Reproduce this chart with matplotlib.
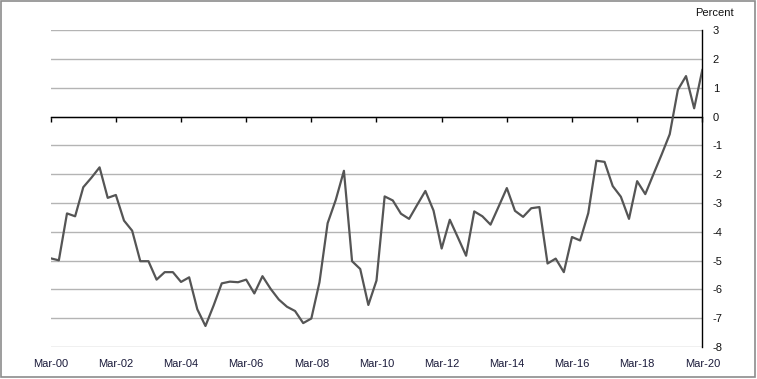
import numpy as np
import matplotlib
matplotlib.use("Agg")
import matplotlib.pyplot as plt
from matplotlib.patches import Rectangle

plt.rcParams['font.family'] = ['Liberation Sans', 'DejaVu Sans']
plt.rcParams['axes.unicode_minus'] = False

# quarterly values, Mar-00 .. Mar-20 (percent)
valores = [
    -4.92, -4.99, -3.36, -3.46, -2.45, -2.12, -1.76, -2.82, -2.72, -3.61,
    -3.96, -5.02, -5.02, -5.66, -5.40, -5.40, -5.74, -5.58, -6.69, -7.27,
    -6.56, -5.79, -5.73, -5.75, -5.66, -6.14, -5.54, -5.98, -6.35, -6.60,
    -6.75, -7.17, -7.01, -5.75, -3.70, -2.89, -1.88, -5.02, -5.29, -6.54,
    -5.69, -2.77, -2.91, -3.37, -3.55, -3.06, -2.58, -3.26, -4.58, -3.58,
    -4.20, -4.83, -3.29, -3.46, -3.75, -3.12, -2.48, -3.27, -3.48, -3.18,
    -3.14, -5.10, -4.93, -5.40, -4.18, -4.30, -3.35, -1.53, -1.57, -2.41,
    -2.78, -3.55, -2.24, -2.69, -2.00, -1.32, -0.61, 0.93, 1.41, 0.29,
    1.62,
]
etiquetas_x = ['Mar-00', 'Mar-02', 'Mar-04', 'Mar-06', 'Mar-08', 'Mar-10',
               'Mar-12', 'Mar-14', 'Mar-16', 'Mar-18', 'Mar-20']
ticks_y = list(range(-8, 4))

W, H = 757, 379
fig = plt.figure(figsize=(W / 100, H / 100), dpi=100)
fig.patches.append(Rectangle((1 / W, 2 / H), 754 / W, 376 / H, transform=fig.transFigure,
                             fill=False, edgecolor='#8c8c8c', linewidth=1.2))

x0, x1, ytop, ybot = 50.7, 702.3, 30.3, 347.0
ax = fig.add_axes([x0 / W, (H - ybot) / H, (x1 - x0) / W, (ybot - ytop) / H])

t = np.arange(len(valores))
ax.plot(t, valores, color='#555555', linewidth=1.6, zorder=3)

ax.set_xlim(0, len(valores) - 1)
ax.set_ylim(-8, 3)

  # grid
ax.set_yticks(ticks_y)
ax.yaxis.grid(True, color='#b4b4b4', linewidth=1.0)
ax.set_axisbelow(True)
ax.yaxis.tick_right()
ax.tick_params(axis='y', length=0, pad=7.5, labelsize=8, labelcolor='#111111')
for lab in ax.get_yticklabels():
    lab.set_horizontalalignment('left')

  # spines
for s in ['top', 'left']:
    ax.spines[s].set_visible(False)
ax.spines['right'].set_color('black')
ax.spines['right'].set_linewidth(1.0)
ax.spines['bottom'].set_position(('data', 0))
ax.spines['bottom'].set_color('black')
ax.spines['bottom'].set_linewidth(1.0)
ax.set_xticks(np.arange(0, len(valores), 8))
ax.tick_params(axis='x', direction='out', length=3.5, width=1.0, color='black',
               labelbottom=False)

  # etiquetas eje x abajo
sec = ax.secondary_xaxis('bottom')
sec.spines['bottom'].set_visible(False)
sec.set_xticks(np.arange(0, len(valores), 8))
sec.set_xticklabels(etiquetas_x)
sec.tick_params(axis='x', length=0, pad=8.5, labelsize=8, labelcolor='#1a1a3a')

fig.text(714.5 / W, 1 - 13.5 / H, 'Percent', ha='center', va='center', fontsize=8,
         color='#111111')

fig.savefig('out.png', dpi=100)
